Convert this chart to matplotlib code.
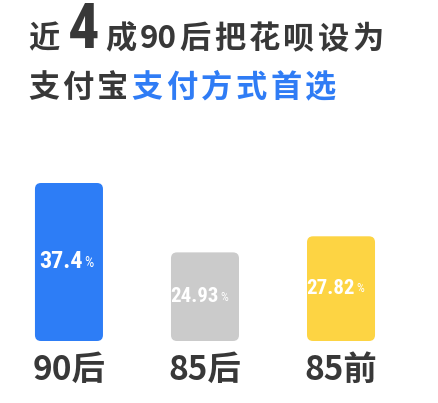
import matplotlib.pyplot as plt
from matplotlib.patches import FancyBboxPatch

plt.rcParams['font.family'] = ['Noto Sans CJK SC', 'DejaVu Sans']

# data
groups = ['90后', '85后', '85前']
shares = [37.4, 24.93, 27.82]
bar_colors = ['#2d7df6', '#cbcbcb', '#fdd443']
value_sizes = [17.5, 15, 15]

dark = '#383838'
blue = '#2f7cf5'
num_font = ['Roboto Condensed', 'Liberation Sans Narrow', 'DejaVu Sans']

W, H = 438, 403
fig = plt.figure(figsize=(W / 100, H / 100), dpi=100)
fig.patch.set_facecolor('white')

# bar area: baseline 62px from the bottom, tallest bar reaching 220px
base = 9.0
ax_bottom, ax_top = 62, 240
px_y = (220 - ax_bottom) / (max(shares) - base)
ymax = base + (ax_top - ax_bottom) / px_y
ax = fig.add_axes([0, ax_bottom / H, 1, (ax_top - ax_bottom) / H])
x0, x1 = -0.507, 2.713
ax.set_xlim(x0, x1)
ax.set_ylim(base, ymax)
ax.axis('off')
px_x = W / (x1 - x0)

width = 0.5
radius = 6 / px_x
for i, (v, c) in enumerate(zip(shares, bar_colors)):
    ax.add_patch(FancyBboxPatch((i - width / 2, base), width, v - base,
                                boxstyle=f'round,pad=0,rounding_size={radius}',
                                mutation_aspect=px_x / px_y, fc=c, ec='none'))
    t = ax.annotate(f'{v:g}', (i, (base + v) / 2), xytext=(10, 0), textcoords='offset points',
                    ha='right', va='center', color='white', fontsize=value_sizes[i],
                    family=num_font, fontweight='bold')
    ax.annotate('%', xy=(1, 0.14), xycoords=t, xytext=(1, 0), textcoords='offset points',
                ha='left', va='bottom', color='white', fontsize=value_sizes[i] * 0.6,
                family=num_font)
    ax.annotate(groups[i], (i, base), xytext=(0, -21), textcoords='offset points',
                ha='center', va='center', fontsize=24, color=dark, fontweight='bold',
                annotation_clip=False)


# title, written piece by piece so the gaps and the big "4" can be set
def write_line(pieces, x, y):
    prev = None
    for text, gap, kw in pieces:
        if prev is None:
            prev = ax.annotate(text, (x, y), xycoords='figure pixels', ha='left',
                               va='baseline', annotation_clip=False, **kw)
        else:
            prev = ax.annotate(text, (1, y), xycoords=(prev, 'figure pixels'),
                               xytext=(gap, 0), textcoords='offset points',
                               ha='left', va='baseline', annotation_clip=False, **kw)


tkw = dict(fontsize=22.5, fontweight='bold', color=dark)
bkw = dict(fontsize=22.5, fontweight='bold', color=blue)
fourkw = dict(fontsize=45, fontweight='bold', color=dark, family=num_font)

line1 = [('近', 0, tkw), ('4', 6, fourkw), ('成', 4, tkw), ('90', 2.4, tkw)]
line1 += [(ch, 2.4, tkw) for ch in '后把花呗设为']
line2 = [(ch, 2.4, tkw) for ch in '支付宝'] + [(ch, 2.4, bkw) for ch in '支付方式首选']
write_line(line1, 28, 355)
write_line(line2, 28, 306)

fig.savefig('out.png', dpi=100, facecolor='white')
